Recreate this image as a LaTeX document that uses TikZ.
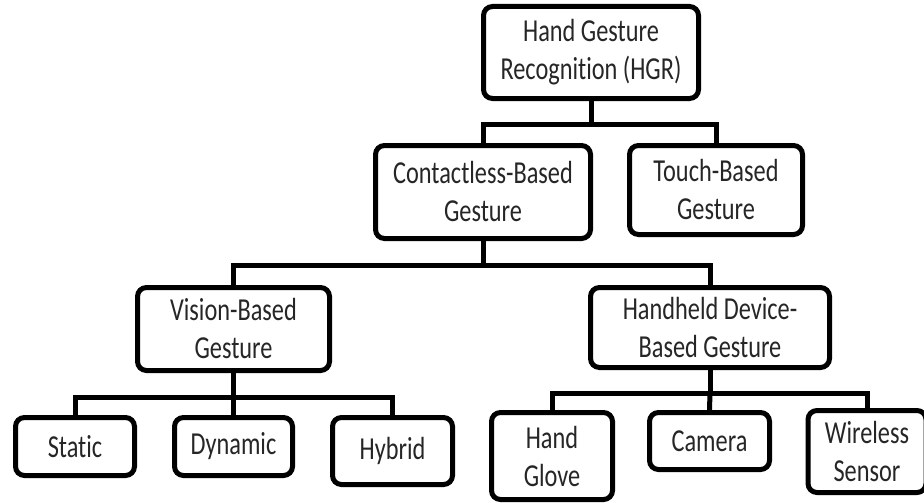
\documentclass[tikz,border=0pt]{standalone}
\usepackage{fontspec}
\setmainfont{Carlito}[FakeStretch=0.76, RawFeature={-liga;-clig}]
\tikzset{
  box/.style={draw=black, line width=5pt, rounded corners=9pt, inner sep=0pt,
    align=center, fill=white, font=\fontsize{32}{38}\selectfont, text=black!85},
  conn/.style={draw=black, line width=5pt}
}
\begin{document}
\begin{tikzpicture}[x=1pt,y=-1pt]
\useasboundingbox (0,0) rectangle (924,503);
\node[box, minimum width=215pt, minimum height=92pt] (hgr) at (591,52.5) {Hand Gesture\\Recognition (HGR)};
\node[box, minimum width=215pt, minimum height=93pt] (cb) at (483,192) {Contactless-Based\\Gesture};
\node[box, minimum width=173pt, minimum height=89pt] (tb) at (716,190) {Touch-Based\\Gesture};
\node[box, minimum width=192pt, minimum height=83pt] (vb) at (233.5,329) {Vision-Based\\Gesture};
\node[box, minimum width=239pt, minimum height=80pt] (hd) at (710,327.5) {Handheld Device-\\Based Gesture};
\node[box, minimum width=119pt, minimum height=58pt] (st) at (75,446.5) {Static};
\node[box, minimum width=118pt, minimum height=58pt] (dy) at (233.5,446.5) {Dynamic};
\node[box, minimum width=120pt, minimum height=67pt] (hy) at (392.5,451) {Hybrid};
\node[box, minimum width=121pt, minimum height=87pt] (hg) at (552,456) {Hand\\Glove};
\node[box, minimum width=120pt, minimum height=57pt] (ca) at (709.5,441) {Camera};
\node[box, minimum width=118pt, minimum height=82pt] (ws) at (867,451.5) {Wireless\\Sensor};
\begin{scope}[line join=miter]
\draw[conn] (hgr.south) -- (hgr.south |- 0,124) coordinate (j1) -| (cb.north);
\draw[conn] (j1) -| (tb.north);
\draw[conn] (cb.south) -- (cb.south |- 0,265) coordinate (j2) -| (vb.north);
\draw[conn] (j2) -| (hd.north);
\draw[conn] (vb.south) -- (vb.south |- 0,397) coordinate (j3) -| (st.north);
\draw[conn] (j3) -| (hy.north);
\draw[conn] (j3) -- (dy.north);
\draw[conn] (hd.south) -- (hd.south |- 0,393) coordinate (j4) -| (hg.north);
\draw[conn] (j4) -| (ws.north);
\draw[conn] (j4) -- (ca.north);
\end{scope}
\end{tikzpicture}
\end{document}
